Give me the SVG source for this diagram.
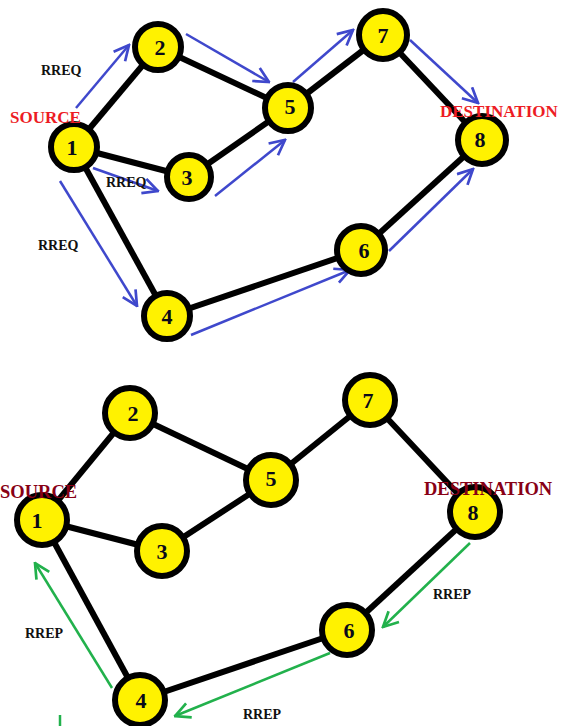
<svg xmlns="http://www.w3.org/2000/svg" width="561" height="726" viewBox="0 0 561 726">
<style>
.edge{stroke:#000;stroke-width:6;fill:none}
.node circle{fill:#fff200;stroke:#000;stroke-width:6}
.node text{font-family:"Liberation Serif",serif;font-weight:bold;font-size:22px;text-anchor:middle;fill:#0a0a1a}
.req{stroke:#3f48cc;stroke-width:2.5;fill:none;marker-end:url(#ab)}
.rep{stroke:#22b14c;stroke-width:2.5;fill:none;marker-end:url(#ag)}
.lbl{font-family:"Liberation Serif",serif;font-weight:bold;font-size:14px;fill:#111}
.src{font-family:"Liberation Serif",serif;font-weight:bold;font-size:17px;fill:#ed1c24}
.src2{font-family:"Liberation Serif",serif;font-weight:bold;font-size:18.5px;fill:#880015}
</style>
<defs>
<marker id="ab" viewBox="0 0 12 12" refX="11" refY="6" markerWidth="18" markerHeight="18" markerUnits="userSpaceOnUse" orient="auto">
<path d="M1,1 L11,6 L1,11" fill="none" stroke="#3f48cc" stroke-width="1.8"/>
</marker>
<marker id="ag" viewBox="0 0 12 12" refX="11" refY="6" markerWidth="18" markerHeight="18" markerUnits="userSpaceOnUse" orient="auto">
<path d="M1,1 L11,6 L1,11" fill="none" stroke="#22b14c" stroke-width="1.8"/>
</marker>
</defs>
<rect width="561" height="726" fill="#fff"/>

<g id="edges-top">
<line class="edge" x1="74" y1="147" x2="158" y2="47"/>
<line class="edge" x1="74" y1="147" x2="189" y2="177"/>
<line class="edge" x1="74" y1="147" x2="167" y2="316"/>
<line class="edge" x1="158" y1="47" x2="288" y2="108"/>
<line class="edge" x1="189" y1="177" x2="288" y2="108"/>
<line class="edge" x1="288" y1="108" x2="383" y2="35"/>
<line class="edge" x1="383" y1="35" x2="482" y2="140"/>
<line class="edge" x1="167" y1="316" x2="361" y2="250"/>
<line class="edge" x1="361" y1="250" x2="482" y2="140"/>
</g>
<g id="rreq-arrows">
<line class="req" x1="76" y1="108" x2="129" y2="45"/>
<line class="req" x1="186" y1="34" x2="269" y2="82"/>
<line class="req" x1="93" y1="168" x2="158" y2="191"/>
<line class="req" x1="215" y1="196" x2="285" y2="140"/>
<line class="req" x1="293" y1="82" x2="353" y2="30"/>
<line class="req" x1="410" y1="40" x2="478" y2="103"/>
<line class="req" x1="60" y1="181" x2="137" y2="306"/>
<line class="req" x1="191" y1="335" x2="350" y2="270"/>
<line class="req" x1="389" y1="251" x2="473" y2="169"/>
</g>

<g id="edges-bottom">
<line class="edge" x1="42" y1="520" x2="130" y2="413"/>
<line class="edge" x1="42" y1="520" x2="162" y2="551"/>
<line class="edge" x1="42" y1="520" x2="140" y2="700"/>
<line class="edge" x1="130" y1="413" x2="271" y2="480"/>
<line class="edge" x1="162" y1="551" x2="271" y2="480"/>
<line class="edge" x1="271" y1="480" x2="370" y2="400"/>
<line class="edge" x1="370" y1="400" x2="475" y2="512"/>
<line class="edge" x1="140" y1="700" x2="347" y2="630"/>
<line class="edge" x1="347" y1="630" x2="475" y2="512"/>
</g>
<g id="rrep-arrows">
<line class="rep" x1="470" y1="543" x2="383" y2="627"/>
<line class="rep" x1="330" y1="653" x2="175" y2="716"/>
<line class="rep" x1="112" y1="688" x2="35" y2="563"/>
<line x1="60" y1="715" x2="60" y2="726" stroke="#22b14c" stroke-width="2.5"/>
</g>

<g id="t1" class="node"><circle cx="74" cy="147" r="23"/><text x="72" y="155">1</text></g>
<g id="t2" class="node"><circle cx="158" cy="47" r="23"/><text x="160" y="55">2</text></g>
<g id="t3" class="node"><circle cx="189" cy="177" r="22"/><text x="187" y="185">3</text></g>
<g id="t4" class="node"><circle cx="167" cy="316" r="23"/><text x="167" y="324">4</text></g>
<g id="t5" class="node"><circle cx="288" cy="108" r="23"/><text x="290" y="114">5</text></g>
<g id="t6" class="node"><circle cx="361" cy="250" r="24"/><text x="364" y="258">6</text></g>
<g id="t7" class="node"><circle cx="383" cy="35" r="24"/><text x="383" y="43">7</text></g>
<g id="t8" class="node"><circle cx="482" cy="140" r="24"/><text x="480" y="147">8</text></g>

<g id="b1" class="node"><circle cx="42" cy="520" r="25"/><text x="37" y="528">1</text></g>
<g id="b2" class="node"><circle cx="130" cy="413" r="25"/><text x="133" y="421">2</text></g>
<g id="b3" class="node"><circle cx="162" cy="551" r="25"/><text x="162" y="559">3</text></g>
<g id="b4" class="node"><circle cx="140" cy="700" r="25"/><text x="141" y="708">4</text></g>
<g id="b5" class="node"><circle cx="271" cy="480" r="25"/><text x="271" y="486">5</text></g>
<g id="b6" class="node"><circle cx="347" cy="630" r="25"/><text x="349" y="638">6</text></g>
<g id="b7" class="node"><circle cx="370" cy="400" r="25"/><text x="368" y="408">7</text></g>
<g id="b8" class="node"><circle cx="475" cy="512" r="25"/><text x="473" y="520">8</text></g>

<g id="labels">
<text class="lbl" x="41" y="75">RREQ</text>
<text class="lbl" x="106" y="187" font-size="13">RREQ</text>
<text class="lbl" x="38" y="250">RREQ</text>
<text class="src" x="10" y="123">SOURCE</text>
<text class="src" x="440" y="117">DESTINATION</text>
<text class="src2" x="0" y="498">SOURCE</text>
<text class="src2" x="424" y="495">DESTINATION</text>
<text class="lbl" x="25" y="638">RREP</text>
<text class="lbl" x="243" y="719">RREP</text>
<text class="lbl" x="433" y="599">RREP</text>
</g>
</svg>
